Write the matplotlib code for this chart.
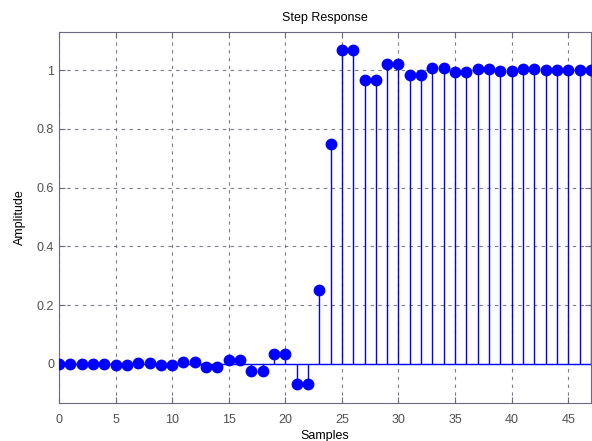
import matplotlib
matplotlib.use("Agg")
import matplotlib.pyplot as plt
import numpy as np

samples = list(range(48))
amplitude = [0, 0, 0, 0, 0,
             -0.004, -0.004, 0.002, 0.002, -0.003, -0.003,
             0.007, 0.007, -0.011, -0.011, 0.013, 0.013,
             -0.025, -0.025, 0.033, 0.033, -0.07, -0.07,
             0.25, 0.75, 1.068, 1.068, 0.965, 0.965,
             1.02, 1.02, 0.985, 0.985, 1.009, 1.009,
             0.994, 0.994, 1.004, 1.004, 0.998, 0.998,
             1.003, 1.003, 0.999, 0.999, 0.999, 0.999, 1.0]
xticks = [0, 5, 10, 15, 20, 25, 30, 35, 40, 45]
yticks = [0, 0.2, 0.4, 0.6, 0.8, 1]
yticklabels = ["0", "0.2", "0.4", "0.6", "0.8", "1"]

plt.rcParams['font.family'] = ['Liberation Sans', 'DejaVu Sans']

fig = plt.figure(figsize=(5.92, 4.41), dpi=100)
ax = fig.add_axes([0.0997, 0.0862, 0.8983, 0.8412])

ml, sl, bl = ax.stem(samples, amplitude, basefmt='-')
plt.setp(sl, color='#0000ff', linewidth=1.0)
plt.setp(ml, color='#0000ff', markersize=7.5, marker='o', zorder=3, clip_on=True)
plt.setp(bl, color='#0000ff', linewidth=1.0)

ax.set_xlim(0, 47)
ax.set_ylim(-0.133, 1.13)
ax.set_xticks(xticks)
ax.set_yticks(yticks)
ax.set_yticklabels(yticklabels)
ax.grid(True, linestyle=(0, (3, 4)), color='#7a7a8a', linewidth=0.8)
ax.set_axisbelow(True)
for s in ax.spines.values():
    s.set_color('#6a6a80')
ax.tick_params(axis='both', colors='#6a6a80', labelcolor='#505050', labelsize=9,
               direction='in', length=4, top=True, right=True)
ax.tick_params(axis='x', pad=8)

ax.set_title("Step Response", fontsize=9, pad=8)
ax.set_xlabel("Samples", fontsize=9, labelpad=3)
ax.set_ylabel("Amplitude", fontsize=9, labelpad=8)

fig.savefig("out.png", dpi=100, facecolor='white')
